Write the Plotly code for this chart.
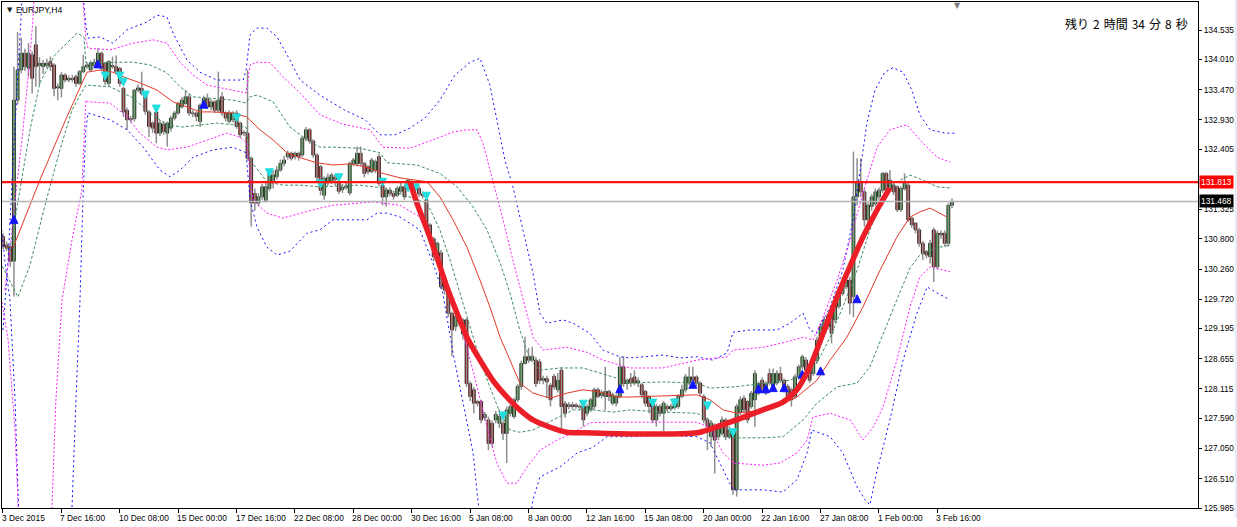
import plotly.graph_objects as go

# ---------------- data (EURJPY H4 candles, bar index 0..260) ----------------
opens = [130.84,130.69,130.66,130.40,133.28,133.82,134.12,133.85,134.09,134.27,
133.90,133.88,133.90,133.97,133.91,133.50,133.49,133.73,133.64,133.67,
133.70,133.58,133.79,133.88,133.82,133.90,133.91,134.12,133.94,133.58,
133.90,133.88,133.85,133.49,133.10,132.95,132.95,133.46,133.49,133.40,
133.07,132.87,133.07,132.69,132.85,132.69,132.78,132.96,133.05,133.16,
133.22,133.34,133.05,133.05,132.90,133.19,133.31,133.16,133.25,133.10,
133.34,133.05,132.90,132.93,133.05,132.87,132.70,132.69,132.24,131.61,
131.44,131.55,131.49,131.70,131.82,131.91,132.03,132.15,132.27,132.33,
132.27,132.33,132.30,132.60,132.75,132.55,132.30,132.09,131.58,131.80,
131.82,131.90,131.82,131.68,131.72,131.62,132.15,132.14,132.33,132.15,
132.09,132.00,132.03,132.27,131.76,131.55,131.67,131.61,131.58,131.65,
131.73,131.70,131.80,131.72,131.70,131.60,131.50,131.05,130.80,130.42,
130.55,129.99,129.88,129.47,129.23,129.41,129.10,129.35,128.21,128.10,
127.89,127.89,127.60,127.56,127.50,127.56,127.50,127.50,127.32,127.68,
127.62,127.92,128.16,128.57,128.69,128.63,128.63,128.60,128.27,128.30,
128.18,128.34,128.10,128.45,127.85,127.80,127.83,127.83,127.80,127.80,
127.68,127.74,127.80,128.10,128.00,127.98,128.07,127.86,127.86,127.98,
128.51,128.21,128.30,128.33,128.22,128.19,128.07,127.98,127.86,127.56,
127.80,127.68,127.80,127.76,127.78,127.80,127.98,128.10,128.22,128.33,
128.33,128.22,127.98,127.56,127.26,127.44,127.26,127.32,127.56,127.26,
127.32,126.31,127.70,127.95,127.89,127.80,127.92,128.04,128.27,128.04,
128.39,128.16,128.22,128.39,128.27,128.16,128.10,127.98,128.33,128.51,
128.63,128.45,128.39,128.62,128.99,129.11,129.23,129.47,129.35,129.59,
129.82,129.94,130.06,129.77,131.55,131.82,131.64,131.14,131.38,131.43,
131.55,131.67,131.97,131.70,131.76,131.73,131.32,131.70,131.76,131.17,
131.08,130.96,130.72,130.57,130.48,130.96,130.30,130.90,130.90,130.72,
131.40]
highs = [130.90,130.75,130.70,133.88,134.50,134.40,134.20,134.30,134.15,134.60,
134.05,134.00,134.02,134.06,133.94,133.58,133.78,133.76,133.72,133.73,
133.74,133.82,134.09,133.96,133.99,134.02,134.21,134.15,133.96,134.00,
134.06,134.08,133.88,133.52,133.15,133.00,133.48,133.56,133.79,133.43,
133.10,132.90,133.10,132.92,132.90,132.90,133.00,133.09,133.25,133.33,
133.46,133.40,133.10,133.08,133.22,133.36,133.40,133.30,133.28,133.79,
133.42,133.08,133.10,133.08,133.10,132.90,132.74,133.82,132.27,131.70,
131.62,131.78,131.80,132.00,132.02,132.10,132.22,132.28,132.38,132.36,
132.36,132.36,132.64,132.80,132.78,132.58,132.33,132.12,131.92,131.97,
131.98,131.96,131.85,131.78,131.80,132.18,132.25,132.45,132.45,132.18,
132.12,132.25,132.22,132.32,131.80,131.72,131.72,131.66,131.74,131.82,
131.76,131.87,131.85,131.78,131.75,131.65,131.55,131.08,130.83,130.75,
130.60,130.02,129.92,129.50,129.45,129.45,129.38,129.38,128.25,128.15,
127.92,127.92,127.70,127.62,127.55,127.72,127.75,127.55,127.80,127.85,
127.96,128.20,128.62,129.05,128.85,128.87,128.68,128.65,128.35,128.35,
128.22,128.38,128.40,128.50,127.90,127.88,127.88,127.86,127.84,127.84,
127.84,127.96,128.14,128.14,128.10,128.51,128.10,128.05,128.03,128.68,
128.70,128.30,128.40,128.45,128.32,128.22,128.10,128.00,127.90,127.85,
127.84,127.90,127.84,127.85,127.95,128.02,128.19,128.38,128.51,128.51,
128.36,128.25,128.02,127.60,127.55,127.50,127.50,127.62,127.60,127.45,
127.40,127.85,127.98,128.00,127.92,128.08,128.45,128.25,128.32,128.25,
128.48,128.48,128.45,128.51,128.30,128.20,128.14,128.38,128.55,128.73,
128.68,128.48,128.65,129.05,129.28,129.41,129.46,129.52,129.75,129.93,
130.12,130.10,130.12,132.36,132.24,132.24,131.70,131.45,131.60,131.70,
131.72,132.00,132.00,132.03,131.80,131.76,131.74,131.97,131.80,131.20,
131.10,131.00,130.76,130.60,130.78,131.00,130.95,130.95,130.95,131.44,
131.52]
lows = [130.62,130.58,130.30,129.77,133.20,133.76,133.80,133.70,133.40,133.52,
133.55,133.75,133.85,133.80,133.35,133.28,133.33,133.60,133.60,133.60,
133.52,133.55,133.76,133.84,133.80,133.86,133.88,133.80,133.55,133.52,
133.84,133.74,133.52,132.98,132.75,132.88,132.90,133.42,133.36,133.02,
132.62,132.70,132.51,132.64,132.66,132.45,132.72,132.92,133.02,133.13,
133.20,133.00,132.98,132.90,132.80,133.16,133.12,133.10,133.05,133.05,
133.00,132.90,132.86,132.88,132.77,132.60,132.64,132.20,131.02,131.30,
131.38,131.50,131.45,131.65,131.70,131.86,132.00,132.10,132.22,132.20,
132.22,132.20,132.26,132.55,132.50,132.25,131.80,131.58,131.50,131.75,
131.78,131.75,131.60,131.62,131.68,131.58,132.10,132.10,132.10,131.90,
131.95,131.98,131.98,131.74,131.40,131.38,131.56,131.50,131.55,131.62,
131.50,131.66,131.60,131.62,131.55,131.52,130.95,130.72,130.40,130.38,
129.90,129.80,129.40,128.70,129.15,129.25,129.00,128.15,127.90,127.68,
127.80,127.50,127.55,127.02,127.08,127.50,127.42,127.20,126.79,127.62,
127.58,127.88,128.10,128.55,128.58,128.60,128.15,128.20,128.20,127.95,
127.80,128.10,128.05,127.32,127.60,127.75,127.75,127.76,127.74,127.45,
127.62,127.70,127.75,127.95,127.95,127.74,127.90,127.82,127.80,127.95,
128.15,128.10,128.15,128.18,128.15,127.95,127.80,127.68,127.50,127.44,
127.62,127.36,127.70,127.72,127.74,127.76,127.95,128.05,128.18,128.22,
128.16,127.98,127.50,127.02,127.08,126.60,127.20,127.28,127.20,127.22,
126.22,126.19,127.65,127.68,127.50,127.76,127.44,128.00,128.05,128.00,
128.18,128.10,128.18,128.22,128.05,127.92,127.80,127.94,128.28,128.46,
128.40,128.22,128.35,128.58,128.95,129.05,129.18,128.93,129.30,129.55,
129.78,129.90,129.45,129.40,131.40,131.55,131.02,131.05,131.30,131.38,
131.50,131.62,131.62,131.65,131.58,131.28,131.28,131.66,131.10,131.00,
130.90,130.66,130.42,130.45,130.36,130.03,130.25,130.80,130.66,130.66,
131.35]
closes = [130.66,130.63,130.40,133.28,133.82,134.12,133.88,134.12,133.67,133.88,
133.94,133.94,133.94,133.88,133.49,133.52,133.73,133.64,133.67,133.65,
133.58,133.79,133.88,133.91,133.94,133.96,134.12,133.85,133.61,133.97,
133.88,133.79,133.58,133.07,132.93,132.93,133.46,133.50,133.40,133.08,
132.81,132.78,132.69,132.87,132.72,132.87,132.96,133.05,133.22,133.28,
133.34,133.05,133.04,132.99,133.19,133.31,133.16,133.25,133.10,133.28,
133.05,132.96,133.05,133.05,132.81,132.66,132.69,132.24,131.44,131.44,
131.55,131.73,131.73,131.97,131.94,132.03,132.15,132.21,132.33,132.24,
132.33,132.27,132.60,132.75,132.55,132.30,131.90,131.67,131.88,131.90,
131.94,131.86,131.65,131.72,131.74,132.15,132.21,132.33,132.15,131.97,
132.00,132.21,132.18,131.79,131.55,131.67,131.61,131.56,131.70,131.73,
131.55,131.85,131.70,131.69,131.60,131.57,131.02,130.81,130.48,130.72,
129.94,129.88,129.47,129.17,129.41,129.32,129.35,128.21,127.98,127.86,
127.86,127.56,127.66,127.14,127.14,127.66,127.62,127.32,127.74,127.80,
127.92,128.16,128.57,128.69,128.63,128.70,128.21,128.27,128.30,128.24,
127.92,128.15,128.27,127.80,127.68,127.83,127.80,127.80,127.79,127.56,
127.80,127.92,128.10,127.98,128.04,128.07,127.98,128.01,127.98,128.51,
128.21,128.27,128.22,128.22,128.26,128.01,127.86,127.80,127.56,127.80,
127.68,127.86,127.76,127.80,127.90,127.98,128.10,128.33,128.33,128.27,
128.22,128.04,127.56,127.44,127.50,127.20,127.44,127.56,127.26,127.38,
126.31,127.80,127.92,127.74,127.56,128.04,128.39,128.21,128.10,128.21,
128.22,128.39,128.39,128.27,128.10,127.98,127.92,128.33,128.51,128.69,
128.45,128.27,128.60,128.99,129.23,129.35,129.41,129.11,129.71,129.88,
129.94,130.06,129.65,131.55,131.82,131.64,131.14,131.40,131.55,131.64,
131.67,131.97,131.67,131.85,131.64,131.32,131.70,131.79,131.14,131.05,
130.96,130.72,130.54,130.51,130.72,130.30,130.90,130.87,130.72,131.40,
131.468]

# x axis labels (every 16 H4 bars)
x_tick_bars = list(range(0, 257, 16))
x_tick_labels = ["3 Dec 2015", "7 Dec 16:00", "10 Dec 08:00", "15 Dec 00:00",
                 "17 Dec 16:00", "22 Dec 08:00", "28 Dec 00:00", "30 Dec 16:00",
                 "5 Jan 08:00", "8 Jan 00:00", "12 Jan 16:00", "15 Jan 08:00",
                 "20 Jan 00:00", "22 Jan 16:00", "27 Jan 08:00", "1 Feb 00:00",
                 "3 Feb 16:00"]
y_tick_values = [134.535, 134.010, 133.470, 132.930, 132.405, 131.325,
                 130.800, 130.260, 129.720, 129.195, 128.655, 128.115, 127.590,
                 127.050, 126.510, 125.985]

# centre line (TMA)
ma_x = [2.7, 10.1, 17.5, 21.1, 23.0, 26.6, 30.1, 32.9, 37.5, 42.2, 46.6, 50.4, 54.0, 57.5, 63.0,
        66.8, 70.4, 74.0, 77.8, 81.4, 86.0, 90.4, 95.1, 99.7, 104.1, 108.8, 113.4, 116.2, 119.7,
        123.3, 127.1, 130.7, 133.4, 136.2, 138.9, 141.6, 145.2, 149.9, 154.5, 158.9, 163.6, 168.2,
        171.8, 180.8, 190.1, 193.7, 197.3, 201.1, 208.2, 212.9, 217.5, 223.0, 226.6, 231.2, 235.6,
        240.3, 244.9, 248.5, 251.2, 254.0, 258.6]
ma_y = [130.63, 131.85, 132.98, 133.52, 133.78, 133.82, 133.78, 133.70, 133.59, 133.46, 133.25,
        133.16, 133.07, 133.07, 133.05, 132.98, 132.75, 132.57, 132.34, 132.25, 132.16, 132.12,
        132.14, 132.08, 131.97, 131.89, 131.85, 131.82, 131.55, 131.14, 130.65, 130.06, 129.58,
        129.04, 128.63, 128.22, 128.04, 127.95, 128.04, 128.10, 128.06, 127.97, 127.97, 127.99,
        128.01, 127.92, 127.74, 127.68, 127.74, 127.83, 127.97, 128.27, 128.63, 129.04, 129.58,
        130.24, 130.83, 131.19, 131.28, 131.35, 131.19]

# bands
ug_x = [1.9, 4.7, 7.4, 10.1, 14.2, 20.3, 22.2, 22.7, 29.3, 35.6, 40.3, 44.9, 48.5, 52.1, 55.9,
        63.0, 66.6, 67.7, 69.6, 74.0, 78.6, 83.3, 86.8, 90.4, 97.8, 103.3, 105.2, 113.4, 119.7,
        124.4, 128.8, 132.6, 136.2, 138.9, 141.6, 144.4, 147.1, 152.6, 158.9, 163.6, 167.1, 171.8,
        180.8, 190.1, 193.7, 200.0, 208.2, 215.6, 220.3, 223.0, 226.6, 230.1, 234.0, 237.5, 241.1,
        244.9, 248.5, 252.1, 255.9, 259.5]
ug_y = [130.60, 131.67, 132.75, 133.59, 134.09, 134.48, 134.41, 133.95, 133.95, 133.96, 133.91,
        133.77, 133.52, 133.34, 133.32, 133.28, 133.23, 133.34, 133.37, 133.25, 132.80, 132.57,
        132.44, 132.44, 132.42, 132.34, 132.16, 132.12, 131.97, 131.73, 131.37, 130.96, 130.37,
        129.83, 129.17, 128.63, 128.45, 128.49, 128.49, 128.40, 128.33, 128.22, 128.24, 128.22,
        128.13, 128.15, 128.22, 128.27, 128.40, 128.58, 129.04, 129.58, 130.24, 130.96, 131.55,
        131.82, 131.94, 131.85, 131.73, 131.71]
lg_x = [-0.8, 1.4, 4.1, 7.4, 11.5, 15.6, 18.9, 21.1, 22.7, 29.3, 35.6, 40.3, 44.9, 49.3, 54.0,
        58.6, 63.0, 66.6, 67.7, 72.3, 76.7, 81.4, 86.8, 92.3, 97.8, 104.1, 111.5, 116.2, 119.7,
        122.5, 125.2, 128.0, 130.7, 133.4, 136.2, 138.9, 141.6, 145.2, 150.7, 156.2, 161.6, 167.1,
        171.8, 180.8, 190.1, 193.7, 197.3, 201.1, 208.2, 213.7, 219.2, 223.0, 228.5, 234.0, 237.5,
        241.1, 244.9, 248.5, 251.2, 255.3, 259.5]
lg_y = [130.39, 130.10, 129.76, 130.33, 131.40, 132.39, 133.10, 133.37, 133.55, 133.52, 133.32,
        133.05, 132.84, 132.80, 132.84, 132.87, 132.84, 132.80, 132.21, 131.82, 131.76, 131.76,
        131.73, 131.74, 131.76, 131.71, 131.55, 131.44, 130.96, 130.42, 129.83, 129.22, 128.63,
        128.15, 127.68, 127.38, 127.34, 127.38, 127.56, 127.74, 127.74, 127.70, 127.74, 127.70,
        127.68, 127.56, 127.26, 127.24, 127.24, 127.26, 127.56, 127.86, 128.15, 128.22, 128.51,
        129.11, 129.71, 130.28, 130.51, 130.63, 130.69]
um_x = [0.5, 1.9, 3.3, 5.2, 6.8, 8.2, 9.0, 21.4, 21.9, 22.7, 23.3, 29.3, 32.1, 35.6, 41.1, 44.9,
        48.5, 52.1, 55.9, 63.0, 66.6, 67.7, 69.6, 73.2, 76.7, 81.4, 86.8, 93.2, 100.5, 104.1, 111.5,
        117.8, 123.3, 127.1, 129.9, 131.5, 134.2, 137.0, 139.7, 142.5, 145.2, 148.0, 154.5, 160.0,
        164.4, 169.0, 171.8, 180.8, 190.1, 198.4, 200.0, 208.2, 213.7, 219.2, 221.9, 224.7, 228.5,
        232.1, 235.6, 239.5, 243.0, 247.7, 251.2, 255.9, 259.5]
um_y = [129.88, 130.60, 131.49, 132.57, 133.64, 134.71, 135.79, 135.79, 135.07, 134.36, 134.21,
        134.18, 134.23, 134.30, 134.36, 134.30, 133.96, 133.73, 133.55, 133.46, 133.41, 133.91,
        133.96, 133.95, 133.70, 133.41, 133.02, 132.85, 132.75, 132.44, 132.42, 132.57, 132.71,
        132.75, 132.75, 132.51, 131.85, 131.14, 130.42, 129.71, 129.04, 128.81, 128.86, 128.77,
        128.63, 128.54, 128.49, 128.49, 128.63, 128.69, 128.81, 128.86, 128.94, 129.04, 128.99,
        129.40, 130.06, 130.78, 131.62, 132.44, 132.75, 132.84, 132.57, 132.26, 132.17]
lm_x = [-0.8, 1.4, 3.3, 4.7, 12.9, 14.5, 16.2, 18.9, 21.6, 22.2, 22.7, 23.3, 29.3, 34.0, 37.5,
        42.2, 44.9, 50.4, 55.9, 61.4, 64.9, 66.8, 68.5, 72.3, 76.7, 81.4, 86.8, 90.4, 101.4, 108.8,
        114.2, 117.8, 121.6, 124.4, 127.1, 129.9, 132.6, 135.3, 138.1, 140.8, 143.6, 147.1, 151.8,
        156.2, 160.8, 166.3, 171.8, 180.8, 190.1, 193.7, 197.3, 200.0, 208.2, 212.9, 217.5, 220.3,
        221.9, 226.6, 232.1, 235.6, 238.4, 241.1, 244.9, 248.5, 251.2, 254.0, 259.5]
lm_y = [129.88, 128.99, 127.38, 125.09, 125.09, 127.92, 129.71, 130.78, 131.67, 132.57, 133.28,
        133.25, 133.23, 132.98, 132.69, 132.44, 132.39, 132.44, 132.57, 132.69, 132.62, 132.51,
        131.49, 131.26, 131.17, 131.26, 131.35, 131.40, 131.46, 131.40, 131.19, 130.65, 130.06,
        129.47, 128.86, 128.15, 127.43, 126.79, 126.43, 126.43, 126.72, 127.02, 127.20, 127.33,
        127.51, 127.52, 127.52, 127.52, 127.52, 127.42, 126.97, 126.79, 126.75, 126.79, 126.97,
        127.20, 127.61, 127.68, 127.56, 127.20, 127.43, 127.79, 128.63, 129.58, 130.12, 130.30,
        130.21]
ub_x = [0, 1.4, 2.5, 3.8, 4.9, 5.8, 21.1, 22.2, 22.7, 23.3, 26.6, 30.1, 34.0, 39.5, 42.2, 44.9,
        46.6, 50.4, 54.0, 58.6, 65.8, 66.6, 67.7, 69.6, 72.3, 75.1, 78.6, 81.4, 86.8, 93.7, 99.2,
        103.3, 107.4, 111.5, 115.6, 119.7, 123.8, 128.0, 130.7, 133.4, 135.3, 137.5, 139.7, 142.5,
        145.2, 147.1, 149.0, 153.4, 156.2, 160.8, 164.4, 169.0, 171.8, 180.8, 185.5, 190.1, 194.5,
        198.4, 200.0, 204.7, 212.1, 215.6, 219.2, 221.1, 223.0, 226.6, 230.1, 232.9, 234.8, 236.7,
        238.9, 241.6, 243.8, 246.6, 249.0, 251.2, 254.0, 258.1, 260.8]
ub_y = [129.17, 130.42, 131.85, 133.28, 134.54, 135.79, 135.79, 135.07, 134.62, 134.39, 134.41,
        134.30, 134.54, 134.68, 134.80, 134.77, 134.48, 134.00, 133.78, 133.64, 133.64, 133.82,
        134.45, 134.57, 134.57, 134.41, 134.00, 133.64, 133.37, 133.10, 132.93, 132.66, 132.66,
        132.78, 132.96, 133.28, 133.73, 133.96, 134.03, 133.55, 132.93, 132.21, 131.73, 130.96,
        130.19, 129.47, 129.29, 129.35, 129.29, 129.11, 128.81, 128.69, 128.67, 128.72, 128.67,
        128.69, 128.63, 128.76, 129.13, 129.17, 129.17, 129.29, 129.47, 129.17, 129.11, 129.58,
        130.24, 131.14, 132.03, 132.87, 133.46, 133.78, 133.86, 133.78, 133.46, 133.02, 132.75,
        132.69, 132.69]
lb_x = [-0.8, 0.5, 1.9, 3.3, 4.7, 18.4, 20.0, 21.1, 21.9, 22.7, 23.3, 29.3, 34.0, 38.4, 43.0,
        45.8, 48.5, 52.1, 57.5, 63.0, 66.6, 67.7, 69.6, 72.3, 75.1, 78.6, 83.3, 86.8, 90.4, 99.7,
        102.5, 105.2, 108.8, 114.2, 117.8, 120.5, 123.3, 126.0, 128.8, 130.1, 132.1, 143.0, 145.2,
        147.1, 152.6, 157.3, 161.6, 165.5, 171.8, 180.8, 190.1, 193.7, 197.3, 200.0, 208.2, 213.7,
        217.5, 220.3, 221.6, 226.6, 230.1, 234.0, 236.2, 237.5, 239.5, 243.0, 246.6, 250.4, 253.2,
        255.9, 259.5]
lb_y = [131.23, 130.42, 129.71, 127.92, 125.09, 125.09, 127.92, 129.71, 131.49, 132.75, 133.05,
        132.93, 132.75, 132.44, 132.03, 131.91, 132.03, 132.26, 132.39, 132.44, 132.34, 131.49,
        131.01, 130.65, 130.51, 130.58, 130.90, 130.96, 131.14, 131.14, 131.26, 131.26, 131.19,
        130.96, 130.37, 129.83, 128.76, 127.86, 126.97, 126.13, 125.09, 125.09, 126.13, 126.54,
        126.72, 126.97, 127.07, 127.26, 127.26, 127.29, 127.26, 127.15, 126.66, 126.31, 126.31,
        126.27, 126.49, 126.97, 127.38, 127.26, 126.97, 126.36, 126.13, 126.04, 126.66, 127.56,
        128.63, 129.47, 129.94, 129.83, 129.71]

# signal arrows
up_bars = [3, 26, 55, 169, 189, 207, 209, 211, 214, 219, 224, 234]
up_prices = [131.22, 134.00, 133.28, 128.19, 128.27, 128.19, 128.19, 128.21, 128.21, 128.45, 128.51, 129.80]
down_bars = [28, 32, 33, 39, 42, 64, 73, 87, 92, 104, 111, 113, 116, 137, 159, 178, 184, 193, 200]
down_prices = [133.64, 133.64, 133.53, 133.30, 133.05, 132.89, 131.91, 131.71, 131.82, 131.74,
               131.64, 131.64, 131.49, 127.56, 127.77, 127.79, 127.79, 127.74, 127.26]

# hand-drawn thick curve
curve_x = [111.5, 113.4, 116.2, 118.9, 121.6, 124.4, 127.1, 130.7, 134.2, 138.1, 141.6, 145.2,
           149.9, 154.5, 158.9, 171.8, 190.1, 199.2, 208.2, 213.7, 217.5, 221.1, 224.7, 228.5,
           232.0, 235.6, 239.5, 243.0]
curve_y = [131.82, 131.44, 130.96, 130.47, 129.94, 129.47, 129.04, 128.63, 128.27, 127.97, 127.74,
           127.56, 127.43, 127.34, 127.33, 127.31, 127.33, 127.52, 127.74, 127.88, 128.10, 128.51,
           129.11, 129.76, 130.30, 130.83, 131.32, 131.71]

# horizontal levels
red_level = 131.813
bid_level = 131.468

# ---------------- figure ----------------
FONT = "Liberation Sans"
idx = list(range(len(opens)))
fig = go.Figure()

# wicks
wx, wy = [], []
for i, h, l in zip(idx, highs, lows):
    wx += [i, i, None]
    wy += [l, h, None]
fig.add_trace(go.Scatter(x=wx, y=wy, mode="lines", line=dict(color="#8e8e8e", width=1.5),
                         hoverinfo="skip"))

# bodies
base = [min(o, c) for o, c in zip(opens, closes)]
height = [max(abs(c - o), 0.012) for o, c in zip(opens, closes)]
colors = ["#12a312" if c >= o else "#d40f0f" for o, c in zip(opens, closes)]
fig.add_trace(go.Bar(x=idx, y=height, base=base, width=0.8, marker=dict(
    color=colors, line=dict(color="#151515", width=0.8)), hoverinfo="skip"))

def band(x, y, color, dash):
    fig.add_trace(go.Scatter(x=x, y=y, mode="lines", line=dict(color=color, width=1, dash=dash),
                             hoverinfo="skip"))

band(ub_x, ub_y, "#1010ff", "2px,3px")
band(lb_x, lb_y, "#1010ff", "2px,3px")
band(um_x, um_y, "#ff1aff", "2px,2px")
band(lm_x, lm_y, "#ff1aff", "2px,2px")
band(ug_x, ug_y, "#3d8f5f", "3px,2px")
band(lg_x, lg_y, "#3d8f5f", "3px,2px")
fig.add_trace(go.Scatter(x=ma_x, y=ma_y, mode="lines", line=dict(color="#e23a2a", width=1),
                         hoverinfo="skip"))

fig.add_trace(go.Scatter(x=up_bars, y=up_prices, mode="markers", hoverinfo="skip",
                         marker=dict(symbol="arrow-up", size=8, color="#1414ff",
                                     line=dict(color="#1414ff", width=1))))
fig.add_trace(go.Scatter(x=down_bars, y=down_prices, mode="markers", hoverinfo="skip",
                         marker=dict(symbol="arrow-down", size=8, color="#22dede",
                                     line=dict(color="#22dede", width=1))))

fig.add_trace(go.Scatter(x=curve_x, y=curve_y, mode="lines", hoverinfo="skip",
                         line=dict(color="#ec1f28", width=5.5, shape="spline", smoothing=0.6)))

shapes = [
    dict(type="line", xref="paper", x0=0, x1=1, yref="y", y0=bid_level, y1=bid_level,
         line=dict(color="#b5b5b5", width=1.6)),
    dict(type="line", xref="paper", x0=0, x1=1, yref="y", y0=red_level, y1=red_level,
         line=dict(color="#ff1414", width=2.2)),
    dict(type="rect", xref="paper", yref="paper", x0=1.031, x1=1.045, y0=-0.02, y1=1.01,
         fillcolor="#e4ecf4", line=dict(width=0)),
]

annotations = []
for b, t in zip(x_tick_bars, x_tick_labels):
    annotations.append(dict(x=b, xref="x", y=0, yref="paper", text=t, showarrow=False,
                            xanchor="left", yanchor="top", xshift=-3, yshift=-3,
                            font=dict(family=FONT, size=8.4, color="black")))
annotations.append(dict(x=1, xref="paper", y=red_level, yref="y", text=f"{red_level:.3f}",
                        showarrow=False, xanchor="left", yanchor="middle", xshift=1,
                        bgcolor="#ff0000", borderpad=1,
                        font=dict(family=FONT, size=8.4, color="white")))
annotations.append(dict(x=1, xref="paper", y=bid_level, yref="y", text=f"{bid_level:.3f}",
                        showarrow=False, xanchor="left", yanchor="middle", xshift=1,
                        bgcolor="#000000", borderpad=1,
                        font=dict(family=FONT, size=8.4, color="white")))
annotations.append(dict(x=0, xref="paper", y=1, yref="paper", text="▼", showarrow=False,
                        xanchor="left", yanchor="top", xshift=3, yshift=-2,
                        font=dict(family="DejaVu Sans", size=7, color="#202020")))
annotations.append(dict(x=0, xref="paper", y=1, yref="paper", text="EURJPY,H4", showarrow=False,
                        xanchor="left", yanchor="top", xshift=12, yshift=-1,
                        font=dict(family=FONT, size=8.6, color="black")))
annotations.append(dict(x=1, xref="paper", y=1, yref="paper",
                        text="残り\u20042\u2004時間\u200434\u2004分\u20048\u2004秒",
                        showarrow=False, xanchor="right", yanchor="top", xshift=-8, yshift=-11,
                        font=dict(family="Noto Sans CJK JP", size=12, color="black")))
annotations.append(dict(x=261.6, xref="x", y=1, yref="paper", text="▼", showarrow=False,
                        xanchor="center", yanchor="top", yshift=3,
                        font=dict(family="DejaVu Sans", size=8, color="#7a7a7a")))

fig.update_layout(
    width=1237, height=527,
    margin=dict(l=2, r=39, t=2, b=19),
    paper_bgcolor="white", plot_bgcolor="white",
    showlegend=False, hovermode=False, barmode="overlay",
    shapes=shapes, annotations=annotations,
    xaxis=dict(range=[-0.27, 327.4], showgrid=False, zeroline=False, showline=True, mirror=True,
               linecolor="black", linewidth=1, tickmode="array", tickvals=x_tick_bars,
               ticks="outside", ticklen=4, tickcolor="black", showticklabels=False),
    yaxis=dict(range=[125.985, 135.036], side="right", showgrid=False, zeroline=False,
               showline=True, mirror=True, linecolor="black", linewidth=1,
               tickmode="array", tickvals=y_tick_values,
               ticktext=[f"{v:.3f}" for v in y_tick_values],
               ticks="outside", ticklen=3, tickcolor="black",
               tickfont=dict(family=FONT, size=8.4, color="black")),
)

fig.write_html("out.html", config={"displayModeBar": False},
               post_script="document.body.style.margin='0';document.body.style.overflow='hidden';")
